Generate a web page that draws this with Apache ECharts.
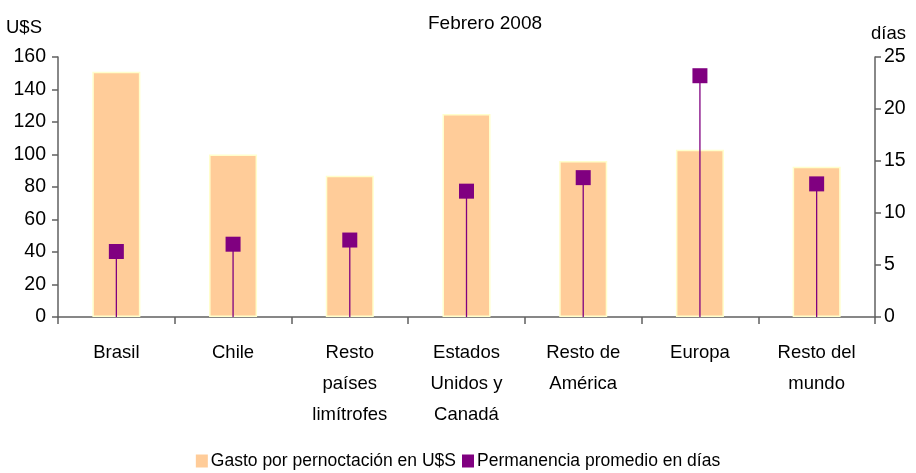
<!DOCTYPE html>
<html>
<head>
<meta charset="utf-8">
<script src="https://cdn.jsdelivr.net/npm/echarts@6/dist/echarts.min.js"></script>
<style>
  html, body { margin: 0; padding: 0; background: #fff; }
  #chart { width: 916px; height: 473px; }
</style>
</head>
<body>
<div id="chart"></div>
<script>
const categories = ['Brasil', 'Chile', 'Resto\npaíses\nlimítrofes', 'Estados\nUnidos y\nCanadá', 'Resto de\nAmérica', 'Europa', 'Resto del\nmundo']
const gasto = [151, 100, 87, 125, 96, 103, 92.5]
const permanencia = [6.3, 7.0, 7.4, 12.1, 13.4, 23.2, 12.8]
const leftTicks = [0, 160, 20]
const rightTicks = [0, 25, 5]

const font = 'Liberation Sans, Arial, sans-serif'
const axisColor = '#606060'
const purple = '#800080'

const chart = echarts.init(document.getElementById('chart'))

const option = {
  animation: false,
  textStyle: { fontFamily: font, color: '#000' },
  title: {
    text: 'Febrero 2008',
    left: 480,
    top: 9,
    textAlign: 'center',
    textStyle: { fontFamily: font, fontSize: 19, fontWeight: 'normal', color: '#000' }
  },
  legend: {
    bottom: -2,
    left: 'center',
    itemWidth: 12,
    itemHeight: 13,
    itemGap: 6,
    textStyle: { fontFamily: font, fontSize: 17.5, color: '#000', padding: [0, 0, 0, -2] },
    data: [
      { name: 'Gasto por pernoctación en U$S', icon: 'rect', itemStyle: { color: '#FFCC99', borderWidth: 0 } },
      { name: 'Permanencia promedio en días', icon: 'rect', itemStyle: { color: purple, borderWidth: 0 } }
    ]
  },
  grid: { left: 58, right: 41, top: 57, bottom: 156 },
  xAxis: [
    {
      type: 'category',
      data: categories,
      axisLine: { lineStyle: { color: axisColor, width: 1.5 } },
      axisTick: { show: true, length: 7, lineStyle: { color: axisColor, width: 1.5 } },
      axisLabel: { fontFamily: font, fontSize: 18.5, color: '#000', lineHeight: 31, margin: 20, interval: 0 }
    },
    {
      type: 'category',
      data: categories,
      show: false
    }
  ],
  yAxis: [
    {
      type: 'value',
      name: 'U$S',
      nameLocation: 'end',
      nameGap: 20,
      nameTextStyle: { fontFamily: font, fontSize: 18.5, color: '#000', align: 'right', padding: [0, 16, 0, 0] },
      min: leftTicks[0],
      max: leftTicks[1],
      interval: leftTicks[2],
      splitLine: { show: false },
      axisLine: { show: true, lineStyle: { color: axisColor, width: 1.5 } },
      axisTick: { show: true, length: 6, lineStyle: { color: axisColor, width: 1.5 } },
      axisLabel: { fontFamily: font, fontSize: 19.5, color: '#000', margin: 12 }
    },
    {
      type: 'value',
      name: 'días',
      nameLocation: 'end',
      nameGap: 14,
      nameTextStyle: { fontFamily: font, fontSize: 18.5, color: '#000', align: 'left', padding: [0, 0, 0, -4] },
      min: rightTicks[0],
      max: rightTicks[1],
      interval: rightTicks[2],
      splitLine: { show: false },
      axisLine: { show: true, lineStyle: { color: axisColor, width: 1.5 } },
      axisTick: { show: true, length: 6, lineStyle: { color: axisColor, width: 1.5 } },
      axisLabel: { fontFamily: font, fontSize: 19.5, color: '#000', margin: 9 }
    }
  ],
  series: [
    {
      name: 'Gasto por pernoctación en U$S',
      type: 'bar',
      data: gasto,
      barWidth: 48,
      itemStyle: { color: '#FFCC99', borderColor: '#FFFFCC', borderWidth: 1.5 }
    },
    {
      name: 'drop',
      type: 'bar',
      xAxisIndex: 1,
      yAxisIndex: 1,
      data: permanencia,
      barWidth: 1.3,
      itemStyle: { color: purple },
      silent: true
    },
    {
      name: 'Permanencia promedio en días',
      type: 'scatter',
      xAxisIndex: 1,
      yAxisIndex: 1,
      data: permanencia,
      symbol: 'rect',
      symbolSize: 15,
      itemStyle: { color: purple, opacity: 1 }
    }
  ]
}

chart.setOption(option)
</script>
</body>
</html>
